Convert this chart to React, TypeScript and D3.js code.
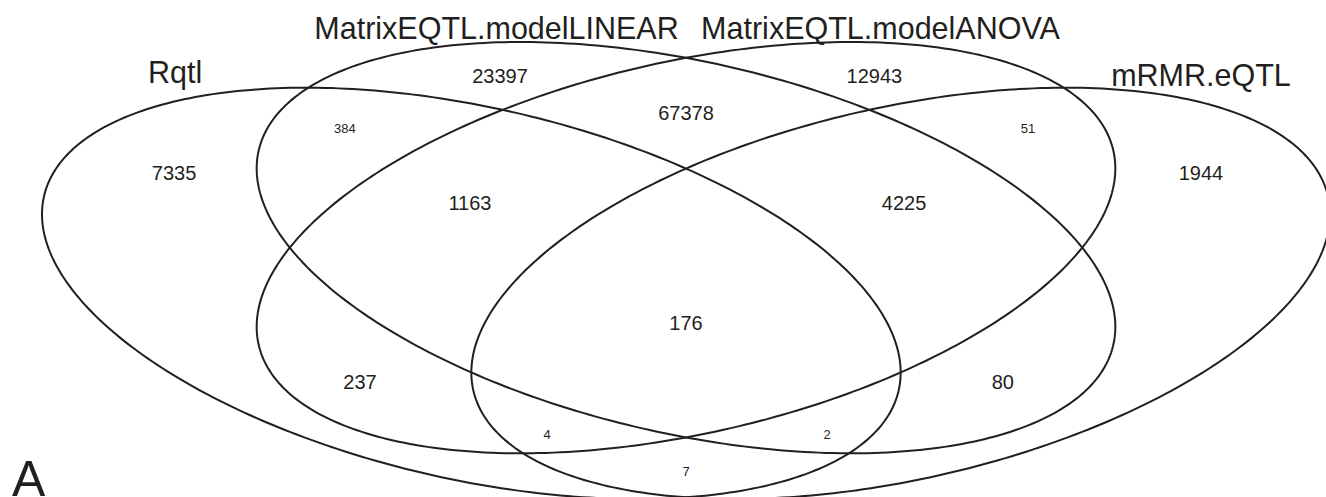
import * as React from "react"
import * as d3 from "d3"

// sets, in drawing order
const setNames = ["Rqtl", "MatrixEQTL.modelLINEAR", "MatrixEQTL.modelANOVA", "mRMR.eQTL"]

// region membership (A=Rqtl, B=LINEAR, C=ANOVA, D=mRMR) and counts
const regionKeys = ["A", "B", "C", "D", "AB", "BC", "CD", "ABC", "BCD", "ABCD", "AC", "BD", "ACD", "ABD", "AD"]
const regionCounts = [7335, 23397, 12943, 1944, 384, 67378, 51, 1163, 4225, 176, 237, 80, 4, 2, 7]

// layout of the ellipses in unit space (same shape, shifted / mirrored)
const ellipseCx = [1 / 3, 0.5, 0.5, 2 / 3]
const ellipseCy = [0.55, 0.45, 0.45, 0.55]
const ellipseTilt = [0.385, 0.385, -0.385, -0.385]
const rx = 1 / 3
const ry = 0.45

// label anchors in unit space (x centre, y baseline)
const setLabelX = [0.1033, 0.3529, 0.651, 0.8998]
const setLabelY = [0.0897, -0.0066, -0.0066, 0.0963]
const regionLabelX = [0.1025, 0.3556, 0.6463, 0.8998, 0.2352, 0.5, 0.7655, 0.3323, 0.6693, 0.5, 0.2469, 0.746, 0.3921, 0.6095, 0.5]
const regionLabelY = [0.302, 0.0897, 0.0897, 0.302, 0.1991, 0.1707, 0.1991, 0.3676, 0.3676, 0.6302, 0.7593, 0.7593, 0.8687, 0.8687, 0.9497]
const smallRegions = ["AB", "CD", "ACD", "ABD", "AD"]

const width = 1326
const height = 497
const ink = "#231f20"
const font = "'Liberation Sans', Arial, Helvetica, sans-serif"

function App() {
    const x = d3.scaleLinear().domain([0, 1]).range([42, 1330])
    const y = d3.scaleLinear().domain([0, 1]).range([42, 499])

    const line = d3.line<[number, number]>()
        .x((d) => x(d[0]))
        .y((d) => y(d[1]))
        .curve(d3.curveLinearClosed)

    const ts = d3.range(0, 360, 1).map((deg) => (deg * Math.PI) / 180)

    const ellipses = setNames.map((name, i) => {
        const delta = Math.acos(ellipseTilt[i])
        const pts: [number, number][] = ts.map((t) => [
            ellipseCx[i] + rx * Math.cos(t),
            ellipseCy[i] + ry * Math.cos(t + delta),
        ])
        return line(pts)
    })

    return (
        <svg width={width} height={height} style={{ position: "absolute", left: 0, top: 0, background: "#fff" }}>
            {ellipses.map((d, i) => (
                <path key={i} d={d || ""} fill="none" stroke={ink} strokeWidth={2} />
            ))}
            {setNames.map((name, i) => (
                <text key={name} x={x(setLabelX[i])} y={y(setLabelY[i])} textAnchor="middle"
                    fontFamily={font} fontSize={30.5} fill={ink}>{name}</text>
            ))}
            {regionCounts.map((count, i) => (
                <text key={regionKeys[i]} x={x(regionLabelX[i])} y={y(regionLabelY[i])} textAnchor="middle"
                    fontFamily={font} fontSize={smallRegions.includes(regionKeys[i]) ? 13 : 20} fill={ink}>{count}</text>
            ))}
            <text x={12} y={496} fontFamily={font} fontSize={50} fill={ink}>A</text>
        </svg>
    )
}

export default App
